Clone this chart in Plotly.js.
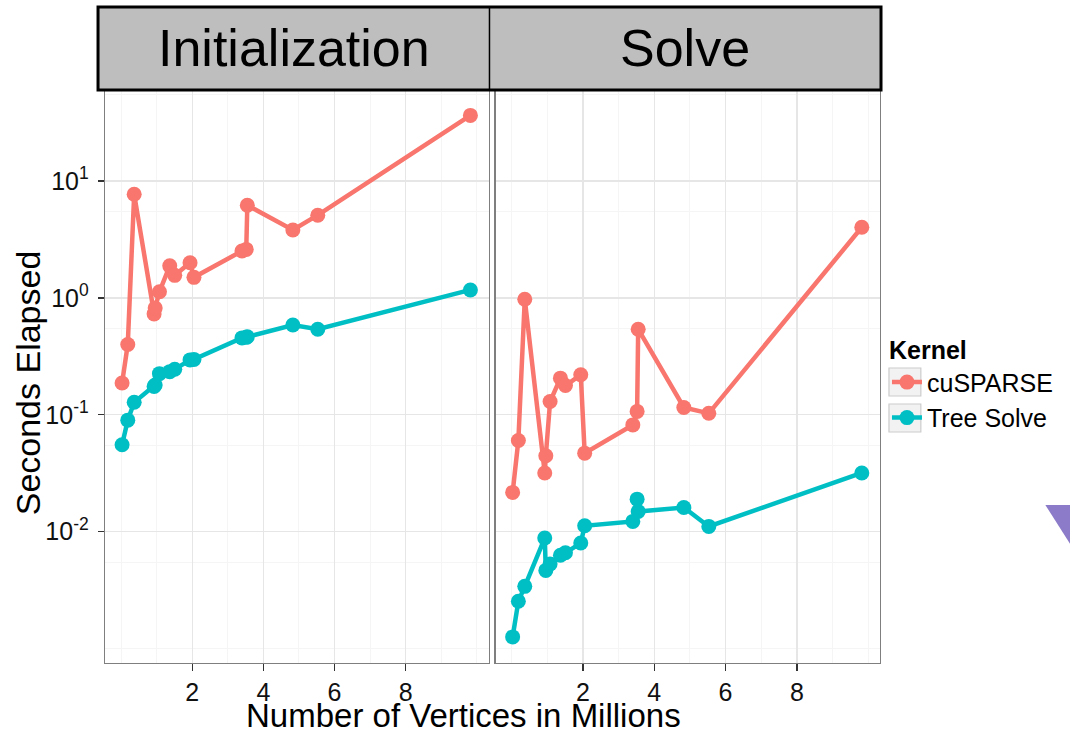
<!DOCTYPE html>
<html><head><meta charset="utf-8">
<script src="https://cdn.plot.ly/plotly-3.0.1.min.js"></script>
<style>html,body{margin:0;padding:0;background:#fff;} #chart{width:1070px;height:735px;}</style>
</head><body><div id="chart"></div>
<script>
// Number of vertices (millions)
const vertices = [0.03, 0.19, 0.37, 0.93, 0.96, 1.08, 1.37, 1.51, 1.94, 2.05, 3.40, 3.52, 3.55, 4.83, 5.53, 9.82];
// Initialization phase (seconds)
const initCusparse = [0.187, 0.40, 7.7, 0.73, 0.82, 1.13, 1.88, 1.56, 2.0, 1.50, 2.52, 2.60, 6.2, 3.81, 5.1, 36.4];
const initTree = [0.0554, 0.090, 0.128, 0.175, 0.180, 0.225, 0.234, 0.245, 0.295, 0.298, 0.455, 0.460, 0.465, 0.587, 0.540, 1.17];
// Solve phase (seconds)
const solveCusparse = [0.0217, 0.0603, 0.975, 0.0318, 0.0447, 0.13, 0.206, 0.178, 0.22, 0.047, 0.082, 0.107, 0.54, 0.1155, 0.103, 4.02];
const solveTree = [0.00126, 0.00254, 0.00341, 0.00883, 0.00467, 0.0053, 0.0063, 0.0066, 0.0080, 0.01125, 0.01225, 0.019, 0.0149, 0.0161, 0.0111, 0.0318];

const kernels = ['cuSPARSE', 'Tree Solve'];
const kernelColors = ['#F8766D', '#00BFC4'];
const panels = ['Initialization', 'Solve'];
const xTickVals = [2, 4, 6, 8];
const xMinorVals = [0, 1, 3, 5, 7, 9, 10];
const yTickVals = [0.01, 0.1, 1, 10];
const yTickText = ['10<sup>-2</sup>', '10<sup>-1</sup>', '10<sup>0</sup>', '10<sup>1</sup>'];
const yMinorVals = [0.001, 0.0055, 0.055, 0.55, 5.5, 55];

const FONT = 'Liberation Sans, Arial, sans-serif';

function series(y, k, xa, ya, show) {
  return {
    x: vertices, y: y, type: 'scatter', mode: 'lines+markers',
    name: kernels[k], legendgroup: kernels[k], showlegend: show,
    xaxis: xa, yaxis: ya,
    line: {color: kernelColors[k], width: 4.5},
    marker: {color: kernelColors[k], size: 15}
  };
}

const data = [
  series(initCusparse, 0, 'x', 'y', true),
  series(initTree, 1, 'x', 'y', true),
  series(solveCusparse, 0, 'x2', 'y2', false),
  series(solveTree, 1, 'x2', 'y2', false)
];

function xAxis(domain, anchor) {
  return {
    domain: domain, anchor: anchor, range: [-0.45, 10.33],
    tickmode: 'array', tickvals: xTickVals, ticktext: xTickVals.map(String),
    ticks: 'outside', ticklen: 7, tickwidth: 1.2, tickcolor: '#333',
    ticklabelstandoff: 0,
    showgrid: true, gridcolor: '#E6E6E6', gridwidth: 1.2,
    minor: {tickmode: 'array', tickvals: xMinorVals, showgrid: true, gridcolor: '#F5F5F5', gridwidth: 1, ticks: ''},
    showline: true, linecolor: '#7F7F7F', linewidth: 1.3, mirror: true, zeroline: false,
    tickfont: {family: FONT, size: 25, color: '#111'}, fixedrange: true
  };
}
function yAxis(anchor, labels) {
  return {
    anchor: anchor, type: 'log', range: [-3.123, 1.770], domain: [0, 1],
    tickmode: 'array', tickvals: yTickVals, ticktext: yTickText,
    showticklabels: labels, ticks: labels ? 'outside' : '', ticklen: 6, tickwidth: 1.2, tickcolor: '#333',
    ticklabelstandoff: 4,
    showgrid: true, gridcolor: '#E6E6E6', gridwidth: 1.2,
    minor: {tickmode: 'array', tickvals: yMinorVals, showgrid: true, gridcolor: '#F5F5F5', gridwidth: 1, ticks: ''},
    showline: true, linecolor: '#7F7F7F', linewidth: 1.3, mirror: true, zeroline: false,
    tickfont: {family: FONT, size: 25, color: '#111'}, fixedrange: true
  };
}

function keyBox(y0px, y1px) {
  return {type: 'rect', xref: 'paper', yref: 'paper',
    x0: (892 - 105) / 778, x1: (924 - 105) / 778,
    y0: (663 - y1px) / 572, y1: (663 - y0px) / 572,
    fillcolor: '#F2F2F2', line: {color: '#CCCCCC', width: 1.2}, layer: 'above'};
}

const layout = {
  width: 1070, height: 735,
  margin: {l: 105, r: 187, t: 91, b: 72},
  paper_bgcolor: '#fff', plot_bgcolor: '#fff',
  font: {family: FONT, color: '#000'},
  xaxis: xAxis([0, 0.4949], 'y'),
  xaxis2: xAxis([0.5039, 1.0], 'y2'),
  yaxis: yAxis('x', true),
  yaxis2: yAxis('x2', false),
  showlegend: true,
  legend: {
    x: 1.009, xanchor: 'left', y: 0.488, yanchor: 'middle',
    bgcolor: 'rgba(0,0,0,0)', font: {family: FONT, size: 25, color: '#000'},
    title: {text: '<b>Kernel</b>', font: {family: FONT, size: 25, color: '#000'}},
    itemwidth: 30, tracegroupgap: 0
  },
  shapes: [
    {type: 'rect', xref: 'paper', yref: 'paper', x0: -0.009, x1: 1.0013, y0: 1.0017, y1: 1.1469,
     fillcolor: '#BEBEBE', line: {color: '#000', width: 3}, layer: 'above'},
    {type: 'line', xref: 'paper', yref: 'paper', x0: 0.4961, x1: 0.4961, y0: 1.0017, y1: 1.1469,
     line: {color: '#000', width: 1.5}, layer: 'above'},
    {type: 'path', xref: 'paper', yref: 'paper', path: 'M1.2134,0.2762 L1.2789,0.2762 L1.2461,0.2063 Z',
     fillcolor: '#8C7BC8', line: {width: 0}},
    keyBox(368, 396),
    keyBox(404, 432)
  ],
  annotations: [
    {text: panels[0], xref: 'paper', yref: 'paper', x: 0.2436, y: 1.0752, xanchor: 'center', yanchor: 'middle',
     showarrow: false, font: {family: FONT, size: 52, color: '#000'}},
    {text: panels[1], xref: 'paper', yref: 'paper', x: 0.748, y: 1.0752, xanchor: 'center', yanchor: 'middle',
     showarrow: false, font: {family: FONT, size: 52, color: '#000'}},
    {text: 'Number of Vertices in Millions', xref: 'paper', yref: 'paper', x: 0.4627, y: (663 - 715) / 572,
     xanchor: 'center', yanchor: 'middle', showarrow: false, font: {family: FONT, size: 33, color: '#000'}},
    {text: 'Seconds Elapsed', xref: 'paper', yref: 'paper', x: -0.099, y: 0.4895, textangle: -90,
     xanchor: 'center', yanchor: 'middle', showarrow: false, font: {family: FONT, size: 34, color: '#000'}}
  ]
};

Plotly.newPlot('chart', data, layout, {displayModeBar: false, staticPlot: true});
</script>
</body></html>
